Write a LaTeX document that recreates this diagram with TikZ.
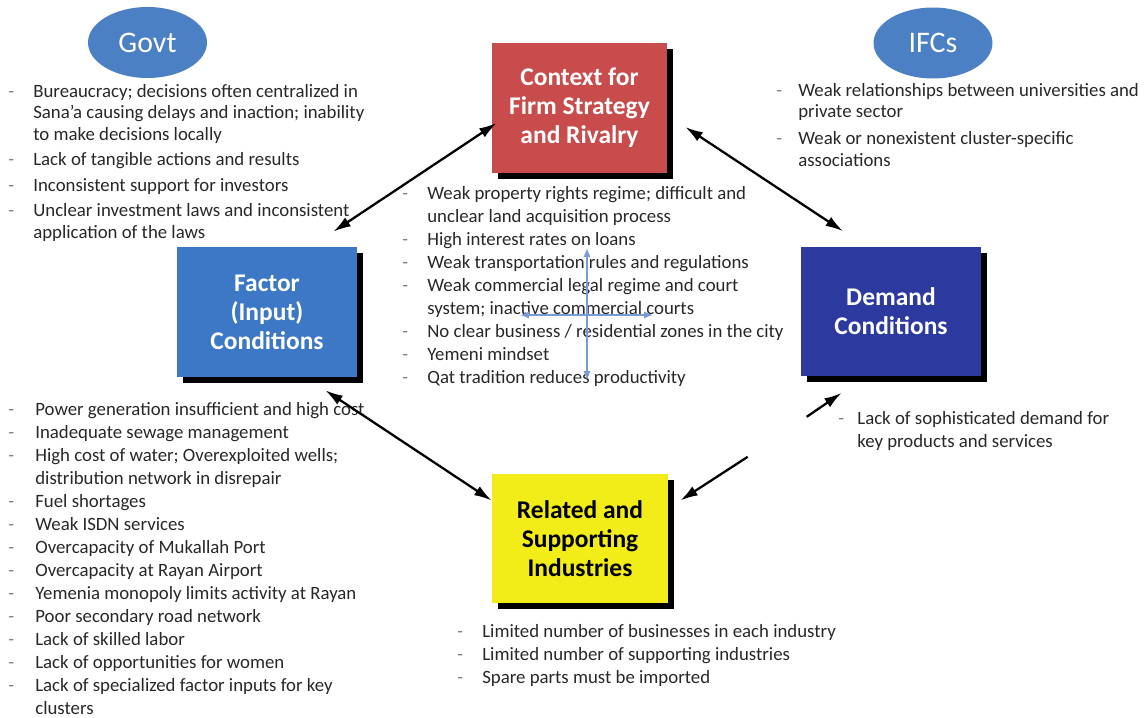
\documentclass[tikz,border=0pt]{standalone}
\usepackage{fontspec}
\setmainfont{Carlito}
\usepackage{tikz}
\usetikzlibrary{arrows.meta}
\usetikzlibrary{shapes}
\usetikzlibrary{shadows}
\usepackage{xcolor}
\definecolor{ctxred}{RGB}{200,76,76}
\definecolor{facblue}{RGB}{60,120,198}
\definecolor{demblue}{RGB}{44,58,160}
\definecolor{relyellow}{RGB}{242,236,24}
\definecolor{ovalblue}{RGB}{76,128,196}
\definecolor{crossblue}{RGB}{120,156,214}
\definecolor{dashgray}{RGB}{130,130,130}
\definecolor{txtgray}{RGB}{40,40,40}
\newcommand{\dsh}{\textcolor{dashgray}{-}}

\begin{document}
\begin{tikzpicture}[x=0.02cm,y=-0.02cm]
                \tikzstyle{force}=[rectangle, minimum height=2.6cm, align=center, inner sep=0pt, font=\fontsize{14.5}{16.5}\selectfont\bfseries, drop shadow={shadow xshift=0.12cm, shadow yshift=-0.12cm, fill=black, opacity=1}]
                \tikzstyle{actor}=[ellipse, fill=ovalblue, text=white, minimum width=2.38cm, minimum height=1.42cm, inner sep=0pt, font=\fontsize{17}{19}\selectfont]
                \tikzstyle{issues}=[anchor=base west, inner sep=0pt, text=txtgray, font=\fontsize{10.7}{13.1}\selectfont]
                \tikzstyle{link}=[{Latex[length=10pt,width=6pt]}-{Latex[length=10pt,width=6pt]}, line width=1.3pt]
                \tikzstyle{onelink}=[-{Latex[length=10pt,width=6pt]}, line width=1.3pt]
                \tikzstyle{cross}=[{Latex[length=5pt,width=4pt]}-{Latex[length=5pt,width=4pt]}, crossblue, line width=0.8pt]

                \useasboundingbox[fill=white] (0,0) rectangle (1146,717);

                % the four corners of the diamond
                \node[force, fill=ctxred, text=white, minimum width=3.5cm] (ctx) at (579.5,108) {Context for\\Firm Strategy\\and Rivalry};
                \node[force, fill=facblue, text=white, minimum width=3.6cm] (fac) at (267,312) {Factor\\(Input)\\Conditions};
                \node[force, fill=demblue, text=white, minimum width=3.6cm] (dem) at (891,311.5) {Demand\\Conditions};
                \node[force, fill=relyellow, text=black, minimum width=3.52cm] (rel) at (580,538.5) {Related and\\Supporting\\Industries};

                \node[actor] (gov) at (147.5,42.5) {Govt};
                \node[actor] (ifc) at (933,43) {IFCs};

                % constraints
                \node[issues, font=\fontsize{10.7}{12.4}\selectfont] (govlist) at (8,97) {\begin{tabular}[t]{@{}p{0.5cm}@{}l@{}}
                \dsh & Bureaucracy; decisions often centralized in\\
                     & Sana’a causing delays and inaction; inability\\
                     & to make decisions locally\\[2pt]
                \dsh & Lack of tangible actions and results\\[2pt]
                \dsh & Inconsistent support for investors\\[2pt]
                \dsh & Unclear investment laws and inconsistent\\
                     & application of the laws
                \end{tabular}};
                \node[issues, font=\fontsize{10.7}{12.4}\selectfont] (ifclist) at (776,96) {\begin{tabular}[t]{@{}p{0.44cm}@{}l@{}}
                \dsh & Weak relationships between universities and\\
                     & private sector\\[3pt]
                \dsh & Weak or nonexistent cluster-specific\\
                     & associations
                \end{tabular}};
                \node[issues] (ctxlist) at (402,199) {\begin{tabular}[t]{@{}p{0.5cm}@{}l@{}}
                \dsh & Weak property rights regime; difficult and\\
                     & unclear land acquisition process\\
                \dsh & High interest rates on loans\\
                \dsh & Weak transportation rules and regulations\\
                \dsh & Weak commercial legal regime and court\\
                     & system; inactive commercial courts\\
                \dsh & No clear business / residential zones in the city\\
                \dsh & Yemeni mindset\\
                \dsh & Qat tradition reduces productivity
                \end{tabular}};
                \node[issues] (faclist) at (8,415) {\begin{tabular}[t]{@{}p{0.54cm}@{}l@{}}
                \dsh & Power generation insufficient and high cost\\
                \dsh & Inadequate sewage management\\
                \dsh & High cost of water; Overexploited wells;\\
                     & distribution network in disrepair\\
                \dsh & Fuel shortages\\
                \dsh & Weak ISDN services\\
                \dsh & Overcapacity of Mukallah Port\\
                \dsh & Overcapacity at Rayan Airport\\
                \dsh & Yemenia monopoly limits activity at Rayan\\
                \dsh & Poor secondary road network\\
                \dsh & Lack of skilled labor\\
                \dsh & Lack of opportunities for women\\
                \dsh & Lack of specialized factor inputs for key\\
                     & clusters
                \end{tabular}};
                \node[issues] (rellist) at (457,637) {\begin{tabular}[t]{@{}p{0.5cm}@{}l@{}}
                \dsh & Limited number of businesses in each industry\\
                \dsh & Limited number of supporting industries\\
                \dsh & Spare parts must be imported
                \end{tabular}};
                \node[issues] (demlist) at (838,424) {\begin{tabular}[t]{@{}p{0.38cm}@{}l@{}}
                \dsh & Lack of sophisticated demand for\\
                     & key products and services
                \end{tabular}};

                % arrows between the corners
                \draw[link] ([shift={(-24,-15)}]fac.north east) -- ([shift={(5,15)}]ctx.west);
                \draw[link] ([shift={(18,19)}]ctx.east) -- ([shift={(-48,-15)}]dem.north);
                \draw[link] ([shift={(-32,13)}]fac.south east) -- ([shift={(0,-38)}]rel.west);
                \draw[onelink] ([shift={(-53,80)}]dem.south west) -- ([shift={(12,-38)}]rel.east);
                \draw[onelink] ([shift={(6,40)}]dem.south west) -- ([shift={(41,16)}]dem.south west);

                % blue cross over the list
                \coordinate (vt) at (587,248);
                \coordinate (vb) at (587,380);
                \coordinate (hl) at (520,315);
                \coordinate (hr) at (653,315);
                \draw[cross] (vt) -- (vb);
                \draw[cross] (hl) -- (hr);
            \end{tikzpicture}
\end{document}
